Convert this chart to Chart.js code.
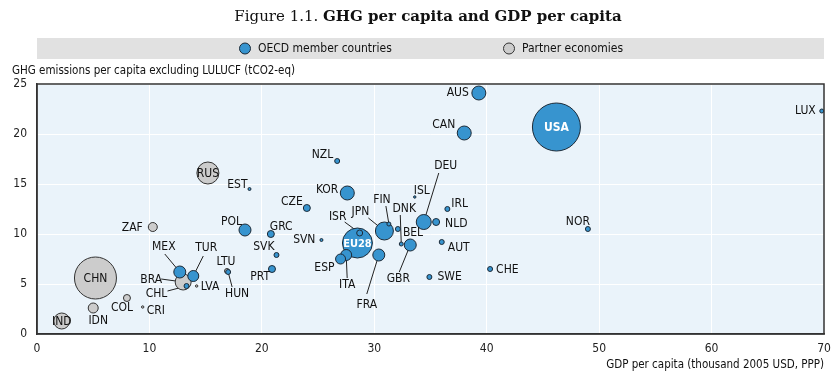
<!DOCTYPE html>
<html>
<head>
<meta charset="utf-8">
<script src="https://cdn.jsdelivr.net/npm/chart.js@4.4.1/dist/chart.umd.min.js"></script>
<style>
  html, body { margin: 0; padding: 0; background: #fff; }
  #wrap { width: 839px; height: 379px; position: relative; }
</style>
</head>
<body>
<div id="wrap"><canvas id="chart"></canvas></div>
<script>
'use strict';

const NARROW = "'Liberation Sans Narrow', 'DejaVu Sans Condensed', 'Roboto Condensed', sans-serif";

// OECD member countries (largest first, so the small ones sit on top)
const oecdCodes = ['USA', 'EU28', 'JPN', 'DEU', 'AUS', 'CAN', 'KOR', 'MEX', 'POL', 'GBR', 'FRA', 'ITA', 'TUR', 'ESP',
  'CZE', 'GRC', 'PRT', 'NLD', 'ISR', 'HUN', 'CHL', 'SWE', 'CHE', 'NOR', 'NZL', 'SVK', 'BEL', 'AUT', 'IRL', 'LUX',
  'FIN', 'DNK', 'EST', 'SVN', 'ISL'];
const oecdGdp = [46.2, 28.5, 30.9, 34.4, 39.3, 38.0, 27.6, 12.7, 18.5, 33.2, 30.4, 27.5, 13.9, 27.0,
  24.0, 20.8, 20.9, 35.5, 28.7, 17.0, 13.3, 34.9, 40.3, 49.0, 26.7, 21.3, 32.1, 36.0, 36.5, 69.8,
  31.3, 32.4, 18.9, 25.3, 33.6];
const oecdGhg = [20.7, 9.1, 10.3, 11.2, 24.1, 20.1, 14.1, 6.2, 10.4, 8.9, 7.9, 7.9, 5.8, 7.5,
  12.6, 10.0, 6.5, 11.2, 10.1, 6.2, 4.8, 5.7, 6.5, 10.5, 17.3, 7.9, 10.5, 9.2, 12.5, 22.3,
  11.0, 9.0, 14.5, 9.4, 13.7];
const oecdSize = [24, 15, 9, 7.5, 7, 7, 7, 6, 6, 6, 6, 5.5, 5.5, 5,
  3.5, 3.5, 3.5, 3.5, 3, 2.5, 2.5, 2.5, 2.5, 2.5, 2.5, 2.5, 2.5, 2.5, 2.5, 2,
  2, 2, 1.5, 1.5, 1.2];

// Partner economies
const partnerCodes = ['CHN', 'RUS', 'IND', 'BRA', 'IDN', 'ZAF', 'COL', 'LTU', 'LVA', 'CRI'];
const partnerGdp = [5.2, 15.2, 2.2, 13.0, 5.0, 10.3, 8.0, 16.9, 14.2, 9.4];
const partnerGhg = [5.6, 16.1, 1.3, 5.2, 2.6, 10.7, 3.6, 6.3, 4.8, 2.7];
const partnerSize = [21, 11, 8, 8, 5, 4.5, 3.5, 2.5, 1.2, 1.2];

const xTicks = [0, 10, 20, 30, 40, 50, 60, 70];
const yTicks = [0, 5, 10, 15, 20, 25];

// where each country label goes, relative to its bubble (px); l = start of leader line
const labelPos = {
  AUS: { dx: -10, dy: 0, a: 'right' }, CAN: { dx: -9, dy: -8, a: 'right' },
  USA: { inside: true, color: '#fff', size: 12 }, EU28: { inside: true, color: '#fff', size: 11 },
  LUX: { dx: -6, dy: 0, a: 'right' }, NZL: { dx: -4, dy: -6, a: 'right' },
  EST: { dx: -2, dy: -4, a: 'right' }, KOR: { dx: -9, dy: -3, a: 'right' },
  CZE: { dx: -4, dy: -6, a: 'right' }, POL: { dx: -3, dy: -8, a: 'right' },
  GRC: { dx: -1, dy: -7, a: 'left' }, SVK: { dx: -2, dy: -8, a: 'right' },
  PRT: { dx: -2, dy: 8, a: 'right' }, MEX: { dx: -16, dy: -25, a: 'center', l: [-15, -18] },
  TUR: { dx: 13, dy: -28, a: 'center', l: [10, -20] }, CHL: { dx: -30, dy: 8, a: 'center', l: [-19, 5] },
  HUN: { dx: 9, dy: 22, a: 'center', l: [4, 15] }, SWE: { dx: 8, dy: 0, a: 'left' },
  CHE: { dx: 6, dy: 1, a: 'left' }, NOR: { dx: 2, dy: -7, a: 'right' },
  SVN: { dx: -6, dy: 0, a: 'right' }, ISR: { dx: -22, dy: -16, a: 'center', l: [-15, -11] },
  ESP: { dx: -6, dy: 9, a: 'right' }, ITA: { dx: 1, dy: 30, a: 'center', l: [1, 23] },
  FRA: { dx: -12, dy: 50, a: 'center', l: [-12, 39] }, JPN: { dx: -24, dy: -19, a: 'center', l: [-16, -13] },
  FIN: { dx: -7, dy: -24, a: 'center', l: [-3, -18] }, DNK: { dx: 3, dy: -35, a: 'center', l: [-1, -29] },
  BEL: { dx: 5, dy: 4, a: 'left' }, GBR: { dx: -12, dy: 34, a: 'center', l: [-11, 27] },
  DEU: { dx: 22, dy: -56, a: 'center', l: [15, -49] }, ISL: { dx: -1, dy: -6, a: 'left' },
  NLD: { dx: 9, dy: 2, a: 'left' }, IRL: { dx: 4, dy: -5, a: 'left' }, AUT: { dx: 6, dy: 6, a: 'left' },
  CHN: { inside: true, color: '#111', size: 12 }, RUS: { inside: true, color: '#111', size: 12 },
  IND: { inside: true, color: '#111', size: 12 },
  BRA: { dx: -32, dy: -2, a: 'center', l: [-22, -3] }, IDN: { dx: 5, dy: 13, a: 'center' },
  ZAF: { dx: -10, dy: 1, a: 'right' }, COL: { dx: -5, dy: 10, a: 'center' },
  LTU: { dx: -1, dy: -9, a: 'center' }, LVA: { dx: 4, dy: 1, a: 'left' }, CRI: { dx: 4, dy: 4, a: 'left' }
};

const codesBySet = [oecdCodes, partnerCodes];

const bubbleLabels = {
  id: 'bubbleLabels',
  beforeDraw(chart) {
    const { ctx, chartArea: a } = chart;
    ctx.save();
    ctx.fillStyle = '#eaf3fa';
    ctx.fillRect(a.left, a.top, a.right - a.left, a.bottom - a.top);
    ctx.restore();
  },
  beforeDatasetsDraw(chart) {
    const ctx = chart.ctx;
    ctx.save();
    ctx.strokeStyle = '#222';
    ctx.lineWidth = 1;
    codesBySet.forEach((codes, i) => {
      chart.getDatasetMeta(i).data.forEach((pt, j) => {
        const s = labelPos[codes[j]];
        if (!s || !s.l) return;
        ctx.beginPath();
        ctx.moveTo(pt.x + s.l[0], pt.y + s.l[1]);
        ctx.lineTo(pt.x, pt.y);
        ctx.stroke();
      });
    });
    ctx.restore();
  },
  afterDatasetsDraw(chart) {
    const ctx = chart.ctx;
    ctx.save();
    ctx.textBaseline = 'middle';
    codesBySet.forEach((codes, i) => {
      chart.getDatasetMeta(i).data.forEach((pt, j) => {
        const s = labelPos[codes[j]];
        if (!s) return;
        if (s.inside) {
          ctx.font = (s.color === '#fff' ? 'bold ' : '') + s.size + 'px ' + NARROW;
          ctx.fillStyle = s.color;
          ctx.textAlign = 'center';
          ctx.fillText(codes[j], pt.x, pt.y + 1);
        } else {
          ctx.font = '12px ' + NARROW;
          ctx.fillStyle = '#111';
          ctx.textAlign = s.a;
          ctx.fillText(codes[j], pt.x + s.dx, pt.y + s.dy);
        }
      });
    });
    // box round the plot
    const a = chart.chartArea;
    ctx.strokeStyle = '#333';
    ctx.lineWidth = 1.5;
    ctx.strokeRect(a.left, a.top, a.right - a.left, a.bottom - a.top);
    ctx.restore();
  },
  afterDraw(chart) {
    const ctx = chart.ctx;
    ctx.save();
    // title, two weights
    const t1 = 'Figure 1.1. ', t2 = 'GHG per capita and GDP per capita';
    ctx.textBaseline = 'middle';
    ctx.fillStyle = '#111';
    ctx.font = '15px "DejaVu Serif", serif';
    const w1 = ctx.measureText(t1).width;
    ctx.font = 'bold 15px "DejaVu Serif", serif';
    const w2 = ctx.measureText(t2).width;
    let x = 428 - (w1 + w2) / 2;
    ctx.textAlign = 'left';
    ctx.font = '15px "DejaVu Serif", serif';
    ctx.fillText(t1, x, 17);
    ctx.font = 'bold 15px "DejaVu Serif", serif';
    ctx.fillText(t2, x + w1, 17);

    // legend band
    ctx.fillStyle = '#e1e1e1';
    ctx.fillRect(37, 38, 787, 21);
    const items = [[245, 0], [509, 1]];
    ctx.font = '12px ' + NARROW;
    items.forEach(([cx, i]) => {
      const ds = chart.data.datasets[i];
      ctx.beginPath();
      ctx.arc(cx, 48.5, 5.5, 0, Math.PI * 2);
      ctx.fillStyle = ds.backgroundColor;
      ctx.fill();
      ctx.strokeStyle = ds.borderColor;
      ctx.lineWidth = 1;
      ctx.stroke();
      ctx.fillStyle = '#111';
      ctx.fillText(ds.label, cx + 13, 49);
    });

    // y axis title, horizontal above the plot
    ctx.font = '11.5px ' + NARROW;
    ctx.fillText('GHG emissions per capita excluding LULUCF (tCO2-eq)', 12, 71);
    ctx.restore();
  }
};

const tickFont = { family: NARROW, size: 12 };

const chart = new Chart(document.getElementById('chart'), {
  type: 'bubble',
  data: {
    datasets: [
      {
        label: 'OECD member countries',
        backgroundColor: '#3794cf',
        borderColor: '#1d2b38',
        borderWidth: 1,
        data: oecdCodes.map((c, i) => ({ x: oecdGdp[i], y: oecdGhg[i], r: oecdSize[i] }))
      },
      {
        label: 'Partner economies',
        backgroundColor: '#cccccc',
        borderColor: '#333333',
        borderWidth: 1,
        data: partnerCodes.map((c, i) => ({ x: partnerGdp[i], y: partnerGhg[i], r: partnerSize[i] }))
      }
    ]
  },
  options: {
    responsive: true,
    maintainAspectRatio: false,
    animation: false,
    layout: { autoPadding: false, padding: { top: 84, right: 15, left: 0, bottom: 0 } },
    plugins: {
      legend: { display: false },
      tooltip: { enabled: false }
    },
    scales: {
      x: {
        type: 'linear',
        min: 0,
        max: 70,
        afterBuildTicks: s => { s.ticks = xTicks.map(v => ({ value: v })); },
        afterFit: s => { s.height = 45; s.paddingLeft = 0; s.paddingRight = 0; },
        ticks: { font: tickFont, color: '#222', padding: 8 },
        grid: { color: '#ffffff', lineWidth: 1, drawTicks: false },
        border: { display: true, color: '#333', width: 1.5 },
        title: {
          display: true,
          text: 'GDP per capita (thousand 2005 USD, PPP)',
          align: 'end',
          color: '#111',
          font: { family: NARROW, size: 11.5 },
          padding: { top: 0, bottom: 7 }
        }
      },
      y: {
        min: 0,
        max: 25,
        afterBuildTicks: s => { s.ticks = yTicks.map(v => ({ value: v })); },
        afterFit: s => { s.width = 37; s.paddingTop = 0; s.paddingBottom = 0; },
        ticks: { font: tickFont, color: '#222', padding: 10 },
        grid: { color: '#ffffff', lineWidth: 1, drawTicks: false },
        border: { display: true, color: '#333', width: 1.5 }
      }
    }
  },
  plugins: [bubbleLabels]
});
</script>
</body>
</html>
